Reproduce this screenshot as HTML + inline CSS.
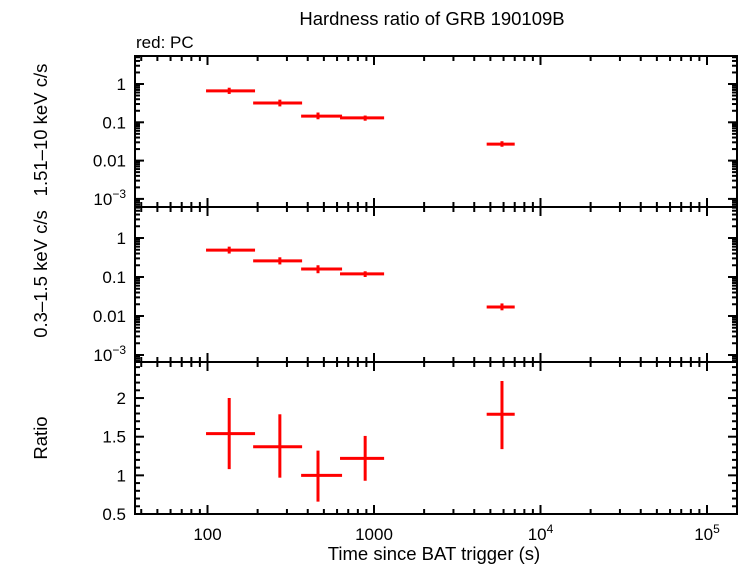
<!DOCTYPE html>
<html><head><meta charset="utf-8"><style>
body{margin:0;background:#fff}
svg{display:block;font-family:"Liberation Sans",sans-serif}
</style></head><body>
<svg id="c" width="742" height="566" viewBox="0 0 742 566">
<text x="432" y="25" font-size="18.5" text-anchor="middle">Hardness ratio of GRB 190109B</text>
<text x="136" y="48" font-size="17">red: PC</text>
<text transform="translate(47,130) rotate(-90)" font-size="18.5" text-anchor="middle">1.51–10 keV c/s</text>
<text transform="translate(47,274) rotate(-90)" font-size="18.5" text-anchor="middle">0.3–1.5 keV c/s</text>
<text transform="translate(47,438) rotate(-90)" font-size="18.5" text-anchor="middle">Ratio</text>
<text x="434" y="560" font-size="18.5" text-anchor="middle">Time since BAT trigger (s)</text>
</svg>
<script>
const tStart=[98,188,365,625,4750];
const tEnd=[193,370,643,1150,7000];
const tMid=[135,272,461,885,5870];
const hardVal=[0.66,0.32,0.145,0.13,0.027];
const hardLo=[0.55,0.26,0.12,0.11,0.023];
const hardHi=[0.80,0.39,0.18,0.15,0.032];
const softVal=[0.49,0.26,0.16,0.12,0.017];
const softLo=[0.40,0.21,0.125,0.10,0.014];
const softHi=[0.60,0.32,0.20,0.14,0.021];
const ratioVal=[1.54,1.37,1.0,1.22,1.79];
const ratioLo=[1.08,0.97,0.66,0.93,1.34];
const ratioHi=[2.0,1.79,1.32,1.51,2.22];
const xTickVals=[100,1000,10000,100000];
const xTickLabels=["100","1000","10^4","10^5"];
const logTickVals=[1,0.1,0.01,0.001];
const logTickLabels=["1","0.1","0.01","10^-3"];
const ratioTickVals=[0.5,1,1.5,2];
const ratioTickLabels=["0.5","1","1.5","2"];

const svg=document.getElementById('c');
const NS='http://www.w3.org/2000/svg';
const L=135,R=737;
function X(t){return 207.5+(Math.log10(t)-2)*166.5;}
function mk(tag,at,name){const e=document.createElementNS(NS,tag);for(const k in at)e.setAttribute(k,at[k]);


svg.appendChild(e);return e;}
function line(x1,y1,x2,y2,col,w,name){return mk('line',{x1,y1,x2,y2,stroke:col,'stroke-width':w},name);}
function label(x,y,s,anchor,name){
  const e=mk('text',{x,y,'font-size':17,'text-anchor':anchor},name);
  const m=s.split('^');
  e.textContent=m[0];
  if(m.length>1){const ts=document.createElementNS(NS,'tspan');ts.setAttribute('dy','-7');ts.setAttribute('font-size','12');ts.textContent=m[1].replace('-','−');e.appendChild(ts);}
}
const panels=[
 {top:56,bot:207,log:true,y0:84,dec:38.3,vals:hardVal,lo:hardLo,hi:hardHi,name:'hard'},
 {top:207,bot:362,log:true,y0:238,dec:39,vals:softVal,lo:softLo,hi:softHi,name:'soft'},
 {top:362,bot:514,log:false,vals:ratioVal,lo:ratioLo,hi:ratioHi,name:'ratio'}
];
panels.forEach(p=>{
  const Y=p.log?(v=>p.y0-Math.log10(v)*p.dec):(v=>514-(v-0.5)*77.3);
  mk('rect',{x:L,y:p.top,width:R-L,height:p.bot-p.top,fill:'none',stroke:'#000','stroke-width':2},p.name+'-frame');
  for(let d=1;d<=5;d++)for(let m=1;m<10;m++){
    const t=m*Math.pow(10,d);const x=X(t);if(x<L||x>R)continue;
    const len=m==1?9:5;
    line(x,p.bot,x,p.bot-len,'#000',2,p.name+'-x-tick');
    line(x,p.top,x,p.top+len,'#000',2,p.name+'-x-tick');
  }
  if(p.log){
    for(let d=-4;d<=1;d++)for(let m=1;m<10;m++){
      const v=m*Math.pow(10,d);const y=Y(v);if(y<p.top||y>p.bot)continue;
      const len=m==1?9:5;
      line(L,y,L+len,y,'#000',2,p.name+'-y-tick');line(R,y,R-len,y,'#000',2,p.name+'-y-tick');
    }
    logTickVals.forEach((v,i)=>label(126,Y(v)+6,logTickLabels[i],'end',p.name+'-y-tick-label'));
  }else{
    for(let v=0.5;v<=2.5;v+=0.1){const y=Y(v);if(y<p.top||y>p.bot)continue;
      const major=Math.abs(v*2-Math.round(v*2))<0.01;const len=major?9:5;
      line(L,y,L+len,y,'#000',2,'ratio-y-tick');line(R,y,R-len,y,'#000',2,'ratio-y-tick');}
    ratioTickVals.forEach((v,i)=>label(126,Y(v)+6,ratioTickLabels[i],'end','ratio-y-tick-label'));
  }
  p.vals.forEach((v,i)=>{
    line(X(tStart[i]),Y(v),X(tEnd[i]),Y(v),'#f00',3,p.name+'-point-x-error');
    line(X(tMid[i]),Y(p.lo[i]),X(tMid[i]),Y(p.hi[i]),'#f00',3,p.name+'-point-y-error');
  });
});
xTickVals.forEach((t,i)=>label(X(t),540,xTickLabels[i],'middle','x-tick-label'));
</script>
</body></html>
